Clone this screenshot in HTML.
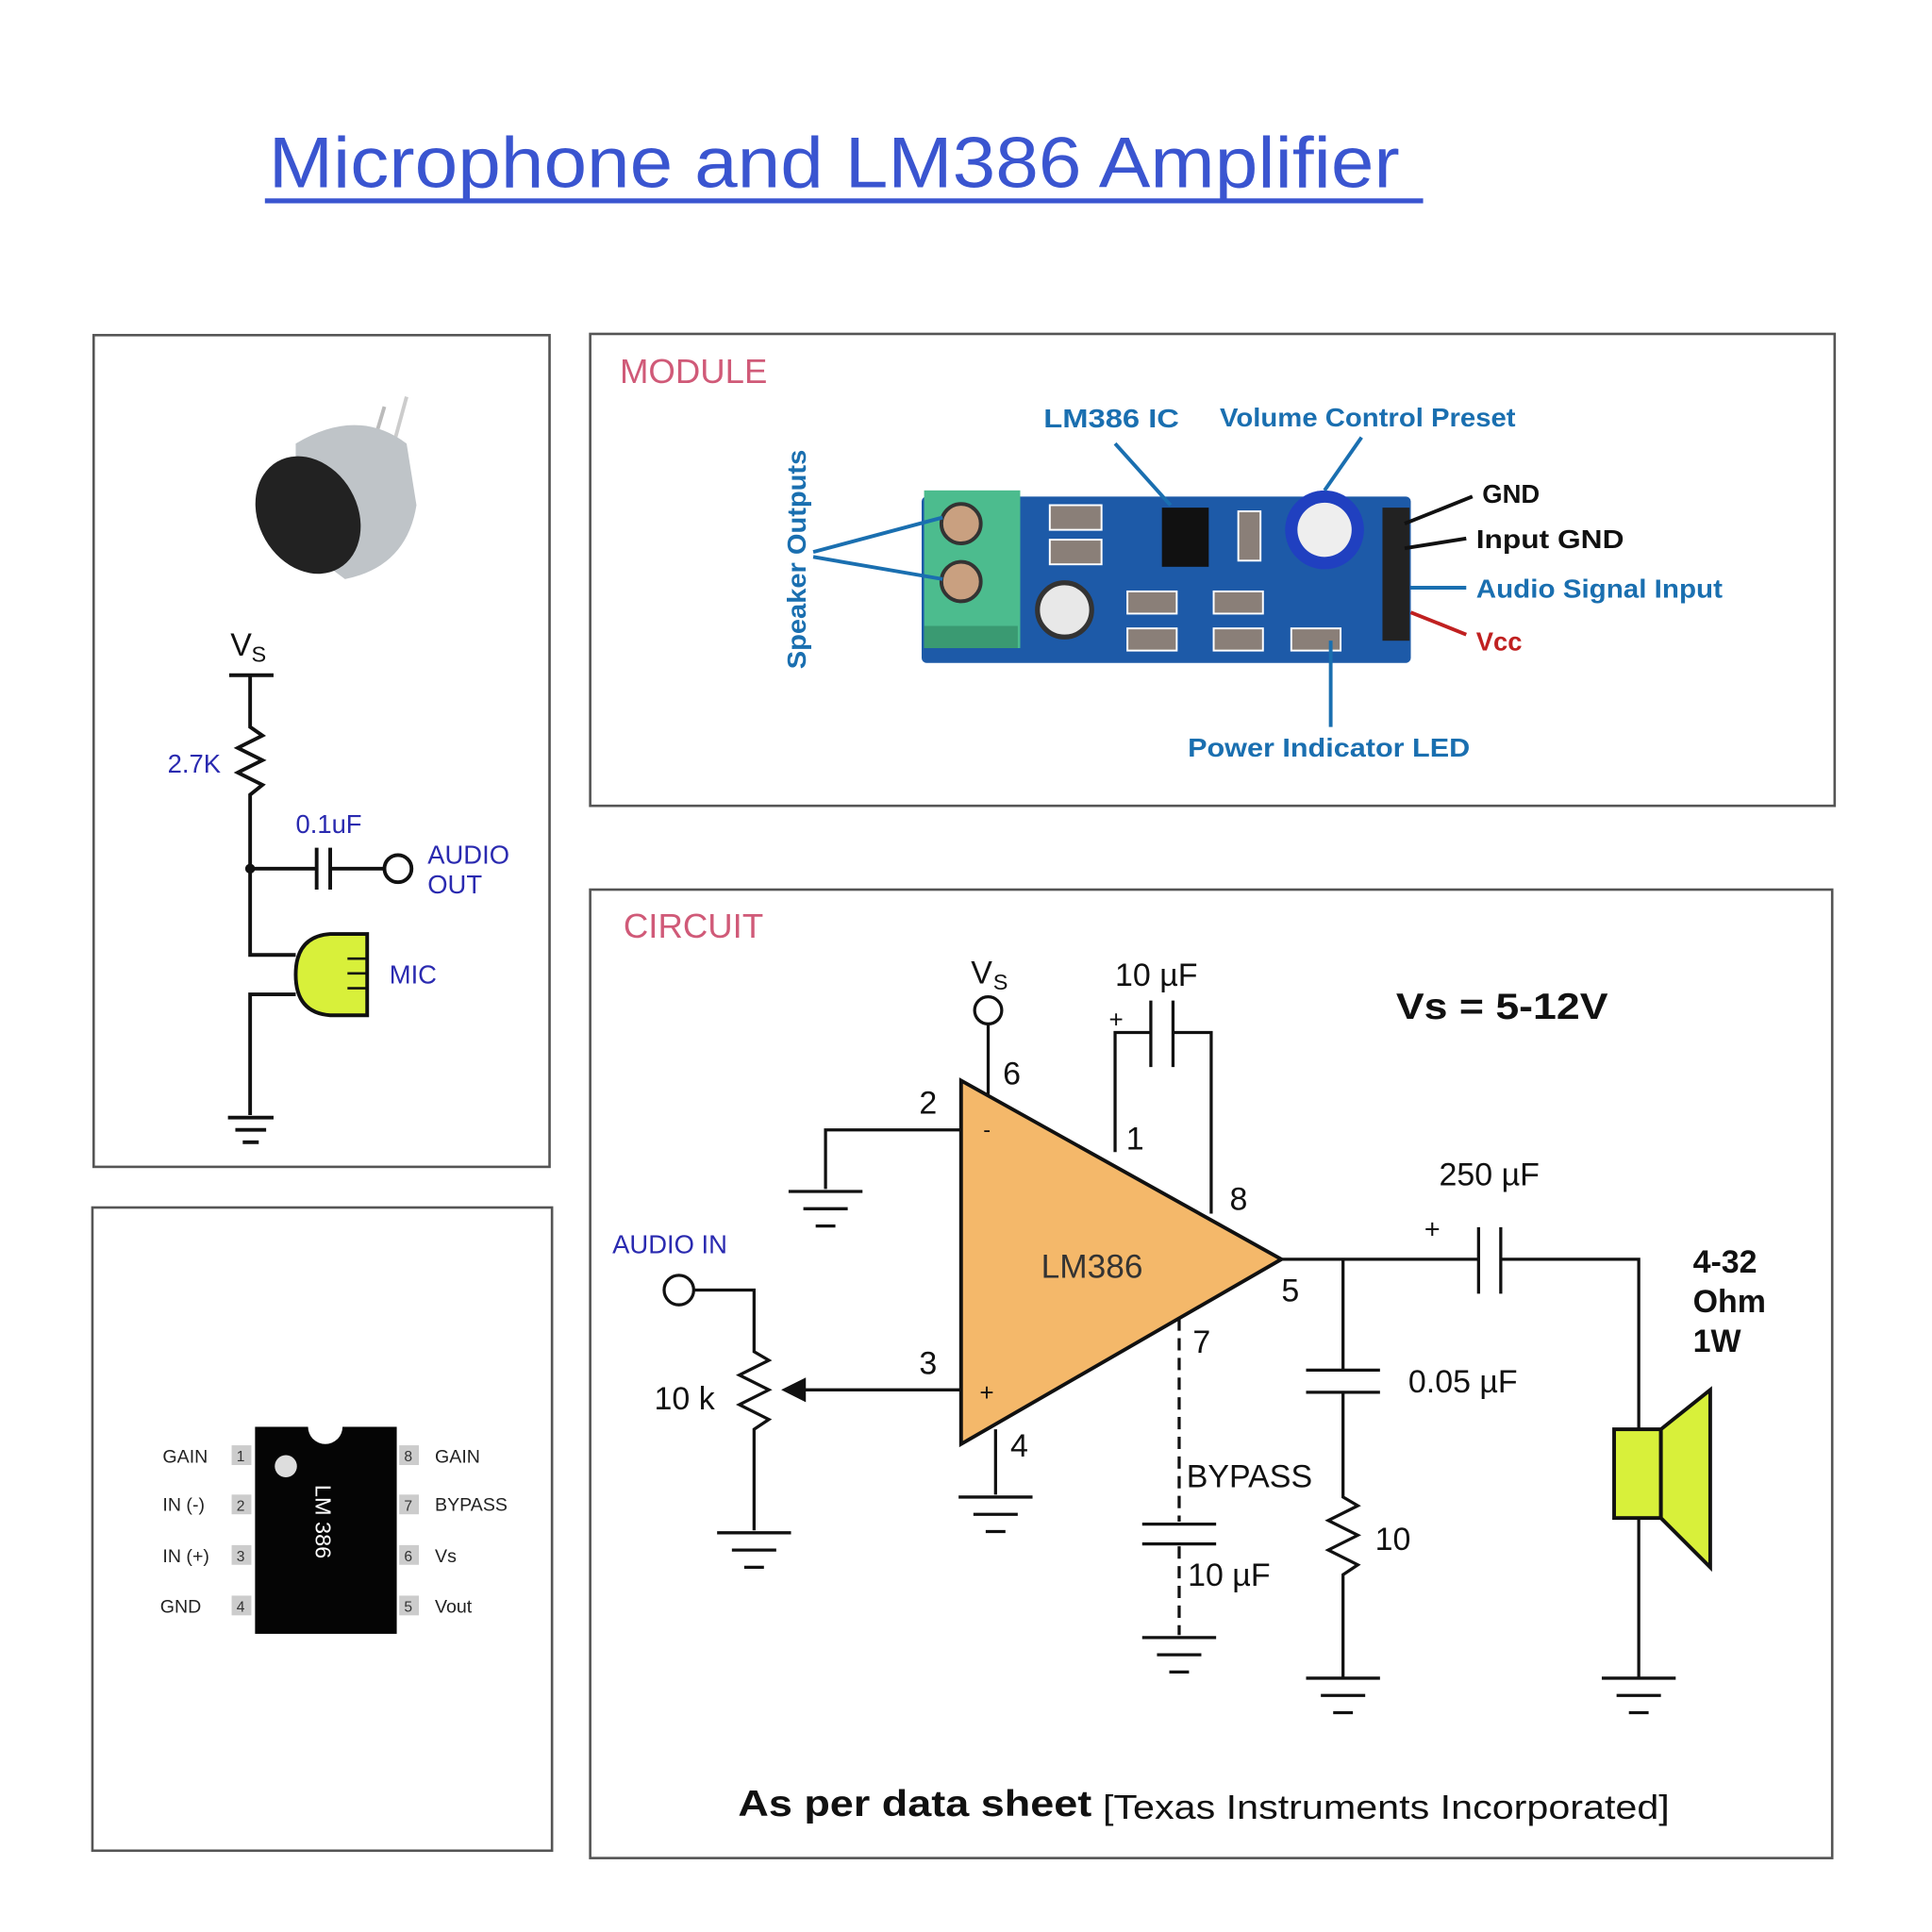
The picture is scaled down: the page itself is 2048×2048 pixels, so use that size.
<!DOCTYPE html>
<html><head><meta charset="utf-8"><style>
html,body{margin:0;padding:0;background:#fff}
svg{display:block}
text{font-family:"Liberation Sans",sans-serif}
.s{font-family:"Liberation Serif",serif;font-weight:bold}
</style></head><body>
<svg width="2048" height="2048" viewBox="0 0 1568 1568" xmlns="http://www.w3.org/2000/svg">
<rect width="1568" height="1568" fill="#fff"/>
<text x="218" y="152" font-size="58" fill="#3a55d0" textLength="918" lengthAdjust="spacingAndGlyphs">Microphone and LM386 Amplifier</text>
<rect x="215" y="161" width="940" height="4" fill="#3a55d0"/>

<g fill="none" stroke="#555" stroke-width="2">
<rect x="76" y="272" width="370" height="675"/>
<rect x="75" y="980" width="373" height="522"/>
<rect x="479" y="271" width="1010" height="383"/>
<rect x="479" y="722" width="1008" height="786"/>
</g>

<line x1="312" y1="330" x2="300" y2="370" stroke="#bbb" stroke-width="3"/>
<line x1="330" y1="322" x2="318" y2="366" stroke="#ccc" stroke-width="3"/>
<path d="M240 360 Q290 330 330 360 L338 410 Q330 460 280 470 L240 440 Z" fill="#bfc4c8"/>
<ellipse cx="250" cy="418" rx="40" ry="50" transform="rotate(-30 250 418)" fill="#222"/>

<text x="187" y="532" font-size="26" fill="#111">V</text><text x="204" y="537" font-size="18" fill="#111">S</text>
<g stroke="#111" stroke-width="3" fill="none">
<line x1="186" y1="548" x2="222" y2="548"/>
<polyline points="203,548 203,590 213,597 193,607 213,617 193,627 213,637 203,645 203,775 240,775"/>
<line x1="203" y1="705" x2="257" y2="705"/><line x1="257" y1="688" x2="257" y2="722"/><line x1="268" y1="688" x2="268" y2="722"/>
<line x1="268" y1="705" x2="312" y2="705"/>
<circle cx="323" cy="705" r="11" fill="#fff"/>
<polyline points="240,807 203,807 203,905"/>
<line x1="185" y1="907" x2="222" y2="907"/><line x1="191" y1="917" x2="216" y2="917"/><line x1="197" y1="927" x2="210" y2="927"/>
</g>
<circle cx="203" cy="705" r="4" fill="#111"/>
<path d="M298 758 L268 758 Q240 760 240 791 Q240 822 268 824 L298 824 Z" fill="#d8f03a" stroke="#111" stroke-width="3"/>
<g stroke="#111" stroke-width="2"><line x1="282" y1="778" x2="298" y2="778"/><line x1="282" y1="790" x2="298" y2="790"/><line x1="282" y1="802" x2="298" y2="802"/></g>
<g fill="#2a2ab0" font-size="21">
<text x="136" y="627">2.7K</text><text x="240" y="676">0.1uF</text>
<text x="347" y="701">AUDIO</text><text x="347" y="725">OUT</text><text x="316" y="798">MIC</text>
</g>

<rect x="207" y="1158" width="115" height="168" fill="#050505"/>
<circle cx="264" cy="1158" r="14" fill="#fff"/>
<circle cx="232" cy="1190" r="9" fill="#ddd"/>
<text x="256" y="1205" font-size="18" fill="#fff" transform="rotate(90 256 1205)">LM 386</text>
<g fill="#ccc"><rect x="188" y="1173" width="16" height="16"/><rect x="188" y="1213" width="16" height="16"/><rect x="188" y="1254" width="16" height="16"/><rect x="188" y="1295" width="16" height="16"/>
<rect x="324" y="1173" width="16" height="16"/><rect x="324" y="1213" width="16" height="16"/><rect x="324" y="1254" width="16" height="16"/><rect x="324" y="1295" width="16" height="16"/></g>
<g font-size="12" fill="#333"><text x="192" y="1186">1</text><text x="192" y="1226">2</text><text x="192" y="1267">3</text><text x="192" y="1308">4</text>
<text x="328" y="1186">8</text><text x="328" y="1226">7</text><text x="328" y="1267">6</text><text x="328" y="1308">5</text></g>
<g font-size="15" fill="#222"><text x="132" y="1187">GAIN</text><text x="132" y="1226">IN (-)</text><text x="132" y="1268">IN (+)</text><text x="130" y="1309">GND</text>
<text x="353" y="1187">GAIN</text><text x="353" y="1226">BYPASS</text><text x="353" y="1268">Vs</text><text x="353" y="1309">Vout</text></g>

<text x="503" y="311" font-size="28" fill="#d05a78">MODULE</text>
<rect x="748" y="403" width="397" height="135" fill="#1d5aa8" rx="4"/>
<rect x="750" y="398" width="78" height="128" fill="#4cbc8e"/>
<rect x="750" y="508" width="76" height="18" fill="#3a9a72"/>
<circle cx="780" cy="425" r="16" fill="#c9a080" stroke="#333" stroke-width="3"/>
<circle cx="780" cy="472" r="16" fill="#c9a080" stroke="#333" stroke-width="3"/>
<rect x="943" y="412" width="38" height="48" fill="#111"/>
<circle cx="864" cy="495" r="22" fill="#e8e8e8" stroke="#333" stroke-width="4"/>
<circle cx="1075" cy="430" r="32" fill="#2040c0"/><circle cx="1075" cy="430" r="22" fill="#eee"/>
<rect x="1122" y="412" width="22" height="108" fill="#222"/>
<g fill="#8a7f78" stroke="#fff" stroke-width="1.5"><rect x="852" y="410" width="42" height="20"/><rect x="852" y="438" width="42" height="20"/><rect x="915" y="480" width="40" height="18"/><rect x="915" y="510" width="40" height="18"/><rect x="985" y="480" width="40" height="18"/><rect x="985" y="510" width="40" height="18"/><rect x="1005" y="415" width="18" height="40"/><rect x="1048" y="510" width="40" height="18"/></g>
<g stroke="#1a6fb0" stroke-width="3" fill="none">
<line x1="660" y1="448" x2="765" y2="420"/><line x1="660" y1="452" x2="765" y2="470"/>
<line x1="950" y1="410" x2="905" y2="360"/><line x1="1075" y1="398" x2="1105" y2="355"/>
<line x1="1145" y1="477" x2="1190" y2="477"/><line x1="1080" y1="520" x2="1080" y2="590"/>
</g>
<g stroke="#111" stroke-width="3"><line x1="1140" y1="425" x2="1195" y2="403"/><line x1="1140" y1="445" x2="1190" y2="437"/></g>
<line x1="1145" y1="497" x2="1190" y2="515" stroke="#c02020" stroke-width="3"/>
<g class="s" font-size="21">
<text x="847" y="347" fill="#1a6fb0" textLength="110" lengthAdjust="spacingAndGlyphs">LM386 IC</text><text x="990" y="346" fill="#1a6fb0" textLength="240" lengthAdjust="spacingAndGlyphs">Volume Control Preset</text>
<text x="1203" y="408" fill="#111">GND</text><text x="1198" y="445" fill="#111" textLength="120" lengthAdjust="spacingAndGlyphs">Input GND</text>
<text x="1198" y="485" fill="#1a6fb0" textLength="200" lengthAdjust="spacingAndGlyphs">Audio Signal Input</text><text x="1198" y="528" fill="#c02020">Vcc</text>
<text x="964" y="614" fill="#1a6fb0" textLength="229" lengthAdjust="spacingAndGlyphs">Power Indicator LED</text>
<text x="654" y="543" fill="#1a6fb0" transform="rotate(-90 654 543)" textLength="178" lengthAdjust="spacingAndGlyphs">Speaker Outputs</text>
</g>

<text x="506" y="761" font-size="28" fill="#d05a78">CIRCUIT</text>
<polygon points="780,877 1040,1022 780,1172" fill="#f4b86a" stroke="#111" stroke-width="3"/>
<text x="845" y="1037" font-size="27" fill="#333">LM386</text>
<g stroke="#111" stroke-width="2.5" fill="none">
<circle cx="802" cy="820" r="11" fill="#fff"/>
<line x1="802" y1="831" x2="802" y2="888"/>
<polyline points="780,917 670,917 670,965"/>
<line x1="640" y1="967" x2="700" y2="967"/><line x1="652" y1="981" x2="688" y2="981"/><line x1="662" y1="995" x2="678" y2="995"/>
<polyline points="905,935 905,838 934,838"/><line x1="934" y1="812" x2="934" y2="866"/><line x1="952" y1="812" x2="952" y2="866"/>
<polyline points="952,838 983,838 983,985"/>
<line x1="1040" y1="1022" x2="1200" y2="1022"/><line x1="1200" y1="996" x2="1200" y2="1050"/><line x1="1218" y1="996" x2="1218" y2="1050"/>
<polyline points="1218,1022 1330,1022 1330,1362"/>
<line x1="1300" y1="1362" x2="1360" y2="1362"/><line x1="1312" y1="1376" x2="1348" y2="1376"/><line x1="1322" y1="1390" x2="1338" y2="1390"/>
<line x1="1090" y1="1022" x2="1090" y2="1112"/><line x1="1060" y1="1112" x2="1120" y2="1112"/><line x1="1060" y1="1130" x2="1120" y2="1130"/>
<polyline points="1090,1130 1090,1215 1102,1222 1078,1234 1102,1246 1078,1258 1102,1270 1090,1278 1090,1362"/>
<line x1="1060" y1="1362" x2="1120" y2="1362"/><line x1="1072" y1="1376" x2="1108" y2="1376"/><line x1="1082" y1="1390" x2="1098" y2="1390"/>
<line x1="957" y1="1070" x2="957" y2="1235" stroke-dasharray="10,6"/>
<line x1="927" y1="1237" x2="987" y2="1237"/><line x1="927" y1="1253" x2="987" y2="1253"/>
<line x1="957" y1="1255" x2="957" y2="1327" stroke-dasharray="10,6"/>
<line x1="927" y1="1329" x2="987" y2="1329"/><line x1="939" y1="1343" x2="975" y2="1343"/><line x1="949" y1="1357" x2="965" y2="1357"/>
<line x1="808" y1="1160" x2="808" y2="1213"/>
<line x1="778" y1="1215" x2="838" y2="1215"/><line x1="790" y1="1229" x2="826" y2="1229"/><line x1="800" y1="1243" x2="816" y2="1243"/>
<circle cx="551" cy="1047" r="12" fill="#fff"/>
<polyline points="563,1047 612,1047 612,1097 624,1104 600,1116 624,1128 600,1140 624,1152 612,1160 612,1242"/>
<line x1="582" y1="1244" x2="642" y2="1244"/><line x1="594" y1="1258" x2="630" y2="1258"/><line x1="604" y1="1272" x2="620" y2="1272"/>
<line x1="650" y1="1128" x2="780" y2="1128"/>
</g>
<polygon points="634,1128 654,1118 654,1138" fill="#111"/>
<rect x="1310" y="1160" width="38" height="72" fill="#d8f03a" stroke="#111" stroke-width="3"/>
<polygon points="1348,1160 1388,1128 1388,1272 1348,1232" fill="#d8f03a" stroke="#111" stroke-width="3"/>
<g font-size="26" fill="#111">
<text x="788" y="798">V</text><text x="806" y="803" font-size="18">S</text>
<text x="905" y="800">10 µF</text><text x="900" y="834" font-size="20">+</text>
<text x="814" y="880">6</text><text x="746" y="904">2</text><text x="914" y="933">1</text><text x="998" y="982">8</text>
<text x="1040" y="1056">5</text><text x="968" y="1098">7</text><text x="746" y="1115">3</text><text x="820" y="1182">4</text>
<text x="1168" y="962">250 µF</text><text x="1156" y="1005" font-size="22">+</text>
<text x="1143" y="1130">0.05 µF</text><text x="963" y="1207">BYPASS</text><text x="964" y="1287">10 µF</text>
<text x="1116" y="1258">10</text><text x="531" y="1144">10 k</text>
<text x="1374" y="1033" font-weight="bold">4-32</text><text x="1374" y="1065" font-weight="bold">Ohm</text><text x="1374" y="1097" font-weight="bold">1W</text>
<text x="1133" y="827" font-size="30" font-weight="bold" textLength="172" lengthAdjust="spacingAndGlyphs">Vs = 5-12V</text>
<text x="798" y="923" font-size="18">-</text><text x="795" y="1137" font-size="20">+</text>
</g>
<text x="497" y="1017" font-size="21" fill="#2a2ab0">AUDIO IN</text>
<text x="599" y="1474" font-size="30" font-weight="bold" fill="#111" textLength="287" lengthAdjust="spacingAndGlyphs">As per data sheet</text>
<text x="895" y="1476" font-size="28" fill="#111" textLength="460" lengthAdjust="spacingAndGlyphs">[Texas Instruments Incorporated]</text>
</svg>
</body></html>
